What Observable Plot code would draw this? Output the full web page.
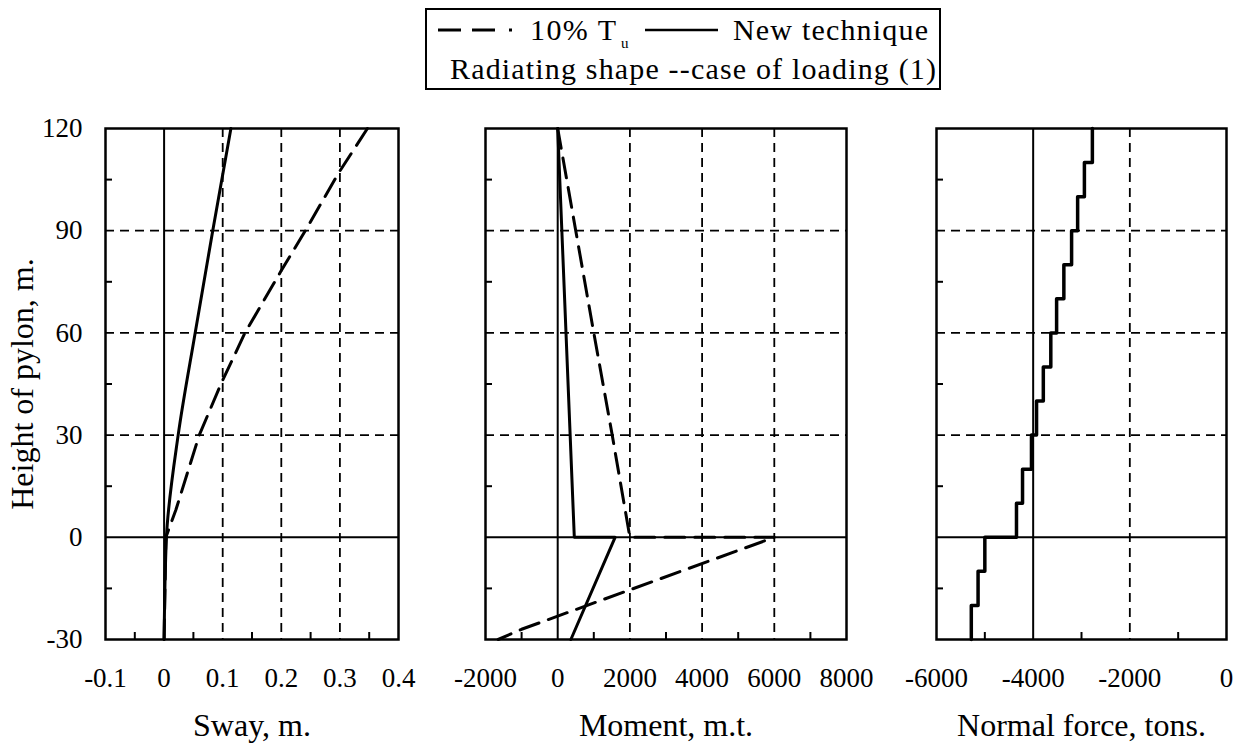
<!DOCTYPE html>
<html><head><meta charset="utf-8">
<script src="https://cdn.jsdelivr.net/npm/d3@7"></script>
<script src="https://cdn.jsdelivr.net/npm/@observablehq/plot@0.6"></script>
<style>
body{margin:0;background:#fff;}
#wrap{position:relative;width:1240px;height:745px;overflow:hidden;background:#fff;font-family:"Liberation Serif","Times New Roman",serif;}
#wrap > svg{position:absolute;overflow:visible;}
g[aria-label="title"] text{letter-spacing:2.5px;}
#legend text{font-family:"Liberation Serif","Times New Roman",serif;}
</style></head><body><div id="wrap"></div>
<script>
// ---- shared height axis ----
const heightTicks = [-30, 0, 30, 60, 90, 120];
const heightMinor = [-15, 15, 45, 75, 105];
const heightGrid = [30, 60, 90];

// ---- Sway panel ----
const swayTicks = [-0.1, 0, 0.1, 0.2, 0.3, 0.4];
const swayMinor = [-0.05, 0.05, 0.15, 0.25, 0.35];
const swayGrid = [0.1, 0.2, 0.3];
const swaySolid = [0];
const swayNewHeight = [-30, 0, 30, 60, 90, 120];
const swayNewValue = [0, 0.004, 0.024, 0.053, 0.083, 0.114];
const swayTuHeight = [-30, 0, 8, 30, 45, 60, 78, 90, 107, 120];
const swayTuValue = [0, 0.003, 0.02, 0.06, 0.097, 0.138, 0.199, 0.241, 0.298, 0.347];

// ---- Moment panel ----
const momentTicks = [-2000, 0, 2000, 4000, 6000, 8000];
const momentMinor = [-1000, 1000, 3000, 5000, 7000];
const momentGrid = [2000, 4000, 6000];
const momentSolid = [0];
const momentNewHeight = [120, 0, 0, -30];
const momentNewValue = [0, 460, 1590, 365];
const momentTuHeight = [120, 90, 60, 30, 0, 0, -27, -30];
const momentTuValue = [0, 500, 1000, 1510, 2000, 6000, -1000, -1650];

// ---- Normal force panel ----
const normalTicks = [-6000, -4000, -2000, 0];
const normalMinor = [-5000, -3000, -1000];
const normalGrid = [-2000];
const normalSolid = [-4000];
const normalHeight = [120, 110, 100, 90, 80, 70, 60, 50, 40, 30, 20, 10, 0, -10, -20, -30];
const normalValue = [-2775, -2940, -3080, -3205, -3365, -3515, -3635, -3790, -3930, -4035, -4220, -4345, -5000, -5140, -5280, -5280];

const rows = (h, v) => h.map((y, i) => ({y, x: v[i]}));

function panel({left, width, mL, mR, xDomain, xTicks, xMinor, xGrid, xSolid, series, title, yLabels}) {
  const marks = [
    Plot.ruleX(xGrid, {stroke: "black", strokeWidth: 1.8, strokeDasharray: "9,6"}),
    Plot.ruleY(heightGrid, {stroke: "black", strokeWidth: 1.8, strokeDasharray: "9,6"}),
    Plot.ruleX(xSolid, {stroke: "black", strokeWidth: 2}),
    Plot.ruleY([0], {stroke: "black", strokeWidth: 2}),
    ...series,
    Plot.axisX(xMinor, {tickSize: -7, strokeWidth: 2, tickFormat: () => "", label: null}),
    Plot.axisY(heightMinor, {tickSize: -7, strokeWidth: 2, tickFormat: () => "", label: null}),
    Plot.axisX(xTicks, {tickSize: 0, tickPadding: 28, fontSize: 27, tickFormat: d => String(d), label: null}),
    Plot.frame({stroke: "black", strokeWidth: 2.5}),
    Plot.text([title], {frameAnchor: "bottom", dy: 86, lineAnchor: "middle", textAnchor: "middle", fontSize: 32, ariaLabel: "title"})
  ];
  if (yLabels) {
    marks.push(Plot.axisY(heightTicks, {tickSize: 0, tickPadding: 23, fontSize: 27, tickFormat: d => String(d), label: null}));
    marks.push(Plot.text(["Height of pylon, m."], {frameAnchor: "left", dx: -83, rotate: -90, textAnchor: "middle", lineAnchor: "middle", fontSize: 32, ariaLabel: "title"}));
  }
  const svg = Plot.plot({
    width, height: 645,
    marginLeft: mL, marginRight: mR, marginTop: 28, marginBottom: 106,
    x: {domain: xDomain, label: null},
    y: {domain: [-30, 120], label: null},
    style: {fontFamily: "Liberation Serif, Times New Roman, serif", fontSize: "27px", color: "black", background: "transparent", overflow: "visible"},
    marks
  });
  svg.style.left = left + "px";
  svg.style.top = "100px";
  document.getElementById("wrap").appendChild(svg);
}

const dashed = {stroke: "black", strokeWidth: 3, strokeDasharray: "20,10"};
const solid = {stroke: "black", strokeWidth: 3};

panel({
  left: 0, width: 430, mL: 105, mR: 32,
  xDomain: [-0.1, 0.4], xTicks: swayTicks, xMinor: swayMinor, xGrid: swayGrid, xSolid: swaySolid,
  series: [
    Plot.line(rows(swayTuHeight, swayTuValue), {x: "x", y: "y", ...dashed}),
    Plot.line(rows(swayNewHeight, swayNewValue), {x: "x", y: "y", curve: "monotone-y", ...solid})
  ],
  title: "Sway, m.", yLabels: true
});

panel({
  left: 430, width: 450, mL: 55, mR: 34,
  xDomain: [-2000, 8000], xTicks: momentTicks, xMinor: momentMinor, xGrid: momentGrid, xSolid: momentSolid,
  series: [
    Plot.line(rows(momentTuHeight, momentTuValue), {x: "x", y: "y", ...dashed}),
    Plot.line(rows(momentNewHeight, momentNewValue), {x: "x", y: "y", ...solid})
  ],
  title: "Moment, m.t.", yLabels: false
});

panel({
  left: 880, width: 360, mL: 56, mR: 14,
  xDomain: [-6000, 0], xTicks: normalTicks, xMinor: normalMinor, xGrid: normalGrid, xSolid: normalSolid,
  series: [
    Plot.line(rows(normalHeight, normalValue), {x: "x", y: "y", curve: "step-before", stroke: "black", strokeWidth: 3.5})
  ],
  title: "Normal force, tons.", yLabels: false
});

// ---- legend ----
const ns = "http://www.w3.org/2000/svg";
const leg = document.createElementNS(ns, "svg");
leg.setAttribute("id", "legend");
leg.setAttribute("width", 516); leg.setAttribute("height", 82);
leg.style.left = "425px"; leg.style.top = "8px";
leg.innerHTML = `
<rect x="1" y="1" width="514" height="80" fill="white" stroke="black" stroke-width="2"/>
<line x1="13" x2="92" y1="22" y2="22" stroke="black" stroke-width="3" stroke-dasharray="23,11,23,14,3,100"/>
<text x="105" y="32" font-size="30" textLength="86" lengthAdjust="spacing">10% T</text>
<text x="196" y="40" font-size="15">u</text>
<line x1="220" x2="293" y1="22" y2="22" stroke="black" stroke-width="2.5"/>
<text x="308" y="32" font-size="30" textLength="195" lengthAdjust="spacing">New technique</text>
<text x="25" y="71" font-size="30" textLength="486" lengthAdjust="spacing">Radiating shape --case of loading (1)</text>
`;
document.getElementById("wrap").appendChild(leg);
</script>
</body></html>
